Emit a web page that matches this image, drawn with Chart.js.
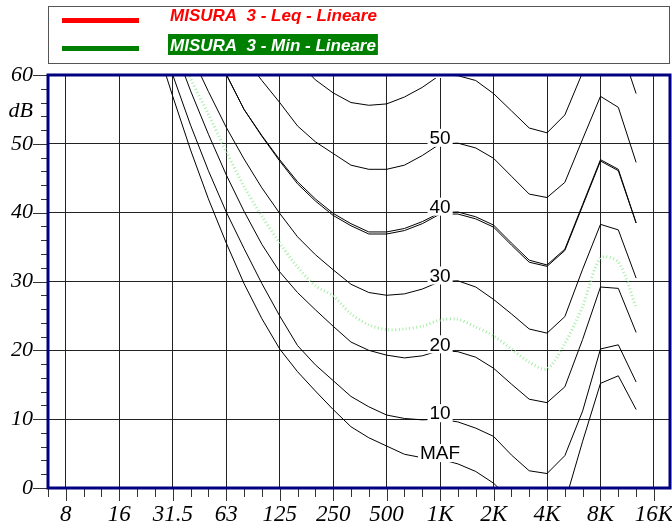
<!DOCTYPE html>
<html>
<head>
<meta charset="utf-8">
<script src="https://cdn.jsdelivr.net/npm/chart.js@4/dist/chart.umd.min.js"></script>
<style>
  body { margin: 0; background: #fff; }
</style>
</head>
<body>
<canvas id="chart" width="672" height="528"></canvas>
<script>
// 1/3 octave bands, 6.3 Hz .. 16 kHz
const bands = ['6.3','8','10','12.5','16','20','25','31.5','40','50','63','80','100','125','160','200','250','315',
  '400','500','630','800','1K','1.25K','1.6K','2K','2.5K','3.15K','4K','5K','6.3K','8K','10K','12.5K','16K'];
const tickLabels = ['8','16','31.5','63','125','250','500','1K','2K','4K','8K','16K'];
const _ = null;

// isophonic curves (dB), one value per band
const maf    = [_,_,_,_,_,_,65.0,56.9,49.1,42.0,35.6,29.7,24.6,20.2,16.9,14.1,11.4,8.9,7.3,6.1,4.9,4.4,4.2,3.5,2.4,0.7,-1.8,-4.0,-4.5,-2.1,6.8,15.2,16.3,11.4,_];
const phon10 = [_,_,_,_,_,_,67.0,60.0,52.7,46.1,40.1,34.8,29.7,25.0,20.7,17.9,15.6,13.3,11.8,10.6,10.1,9.9,10.0,9.6,8.7,7.5,4.8,2.5,2.1,4.7,11.2,20.2,20.8,15.4,_];
const phon20 = [_,_,_,_,_,_,_,64.6,57.7,51.4,45.5,40.2,35.4,31.4,28.4,25.9,23.5,21.2,20.0,19.3,18.9,19.2,20.0,19.8,19.0,17.4,15.1,12.9,12.4,14.7,21.6,29.2,29.0,22.6,_];
const phon30 = [_,_,_,_,_,_,_,_,63.1,57.6,52.4,47.8,43.6,39.9,36.5,33.9,31.7,29.6,28.4,28.0,28.2,28.9,30.0,30.1,29.2,27.4,25.3,23.1,22.5,24.9,31.8,38.3,37.5,30.5,_];
const phon40 = [_,_,_,_,_,_,_,_,_,65.2,60.1,55.0,51.2,47.7,44.5,42.0,39.9,38.4,37.2,37.2,37.7,38.7,40.0,40.1,39.4,38.2,35.6,33.1,32.4,34.7,41.2,47.7,46.3,38.5,_];
const phon40b= [_,_,_,_,_,_,_,_,_,65.2,60.1,55.0,51.1,47.5,44.2,41.7,39.6,38.1,36.9,36.9,37.4,38.4,39.8,39.8,39.1,37.9,35.3,32.8,32.2,34.5,41.0,47.5,46.1,38.5,_];
const phon50 = [_,_,_,_,_,_,_,_,_,_,_,62.6,59.2,56.0,52.6,50.3,48.6,46.9,46.3,46.3,46.9,48.3,50.0,50.1,49.4,47.9,45.3,42.7,42.2,44.4,50.7,56.9,55.3,47.3,_];
const phon60 = [_,_,_,_,_,_,_,_,_,_,_,_,_,_,62.0,59.3,57.4,56.0,55.6,55.8,56.8,58.2,60.0,59.9,59.2,57.3,54.8,52.3,51.6,54.2,60.4,66.0,65.0,57.3,_];

// measurements
const leq = [];
const minLin = [_,_,_,_,_,_,_,66.5,59.5,54.3,48.9,43.8,39.5,35.6,32.1,29.4,27.9,25.3,23.7,23.0,23.1,23.5,24.4,24.5,23.4,22.1,20.2,18.3,17.3,21.0,26.4,33.4,32.8,26.2,_];

const toXY = arr => arr.map((v, i) => ({ x: i, y: v }));

function curve(data, phon) {
  return { data: toXY(data), phon: phon, borderColor: '#000', borderWidth: 1, pointRadius: 0, tension: 0 };
}

const datasets = [
  curve(maf, 'MAF'), curve(phon10, '10'), curve(phon20, '20'), curve(phon30, '30'),
  curve(phon40, '40'), curve(phon40b, null), curve(phon50, '50'), curve(phon60, '60'),
  { label: 'MISURA  3 - Leq - Lineare', legendColor: '#ff0000', data: toXY(leq), borderColor: '#ff0000', borderWidth: 2, pointRadius: 0 },
  { label: 'MISURA  3 - Min - Lineare', legendColor: '#008000', data: toXY(minLin), borderColor: '#a8eca8',
    borderWidth: 3, borderDash: [1, 2.5], tension: 0.3, pointRadius: 0 }
];

const decorations = {
  id: 'decorations',
  afterDatasetsDraw(chart) {
    const ctx = chart.ctx, a = chart.chartArea, k = bands.indexOf('1K');
    ctx.save();
    ctx.beginPath();
    ctx.rect(a.left, a.top, a.right - a.left, a.bottom - a.top);
    ctx.clip();
    ctx.font = '19px "Liberation Sans", Arial, sans-serif';
    ctx.textAlign = 'center';
    ctx.textBaseline = 'middle';
    chart.data.datasets.forEach((ds, di) => {
      if (!ds.phon) return;
      const pt = chart.getDatasetMeta(di).data[k];
      const w = ctx.measureText(ds.phon).width;
      const cy = pt.y - 6;
      ctx.fillStyle = '#fff';
      ctx.fillRect(pt.x - w / 2 - 2, cy - 9, w + 4, 18);
      ctx.fillStyle = '#000';
      ctx.fillText(ds.phon, pt.x, cy + 1);
    });
    ctx.restore();
  },
  afterDraw(chart) {
    const ctx = chart.ctx, a = chart.chartArea, xs = chart.scales.x, ys = chart.scales.y;
    ctx.save();
    // tick marks
    ctx.strokeStyle = '#333';
    ctx.lineWidth = 1;
    ctx.beginPath();
    bands.forEach((b, i) => {
      const px = Math.round(xs.getPixelForValue(i)) + 0.5;
      const len = tickLabels.includes(b) ? 13 : 9;
      ctx.moveTo(px, a.bottom);
      ctx.lineTo(px, a.bottom + len);
    });
    for (let v = 0; v <= 60; v += 2) {
      const py = Math.round(ys.getPixelForValue(v)) + 0.5;
      const len = v % 10 === 0 ? 15 : 7;
      ctx.moveTo(a.left - len, py);
      ctx.lineTo(a.left, py);
    }
    ctx.stroke();
    // frame
    ctx.strokeStyle = '#000080';
    ctx.lineWidth = 3;
    ctx.strokeRect(a.left, a.top, a.right - a.left, a.bottom - a.top);
    // unit
    ctx.fillStyle = '#000';
    ctx.font = 'italic 22px "Liberation Serif", "Times New Roman", serif';
    ctx.textAlign = 'right';
    ctx.textBaseline = 'middle';
    ctx.fillText('dB', 33, 111);
    // legend
    ctx.strokeStyle = '#555';
    ctx.lineWidth = 1;
    ctx.strokeRect(48.5, 6.5, 621, 57);
    ctx.font = 'bold italic 17px "Liberation Sans", Arial, sans-serif';
    ctx.textAlign = 'left';
    ctx.textBaseline = 'alphabetic';
    const items = chart.data.datasets.filter(d => d.label);
    items.forEach((d, i) => {
      const y = 20 + i * 28;
      ctx.fillStyle = d.legendColor;
      ctx.fillRect(62, y - 2, 77, 5);
      const w = ctx.measureText(d.label).width;
      if (i === 1) {
        ctx.fillRect(168, y - 14, w + 4, 21);
        ctx.fillStyle = '#fff';
      }
      ctx.fillText(d.label, 170, y + 1 + i * 2);
    });
    ctx.restore();
  }
};

new Chart(document.getElementById('chart'), {
  type: 'line',
  data: { datasets: datasets },
  plugins: [decorations],
  options: {
    responsive: false,
    animation: false,
    devicePixelRatio: 1,
    layout: { padding: { top: 75, right: 2, left: 0, bottom: 0 } },
    plugins: { legend: { display: false }, tooltip: { enabled: false } },
    scales: {
      x: {
        type: 'linear', min: 0, max: 34.9,
        afterBuildTicks: s => { s.ticks = bands.map((b, i) => ({ value: i })); },
        afterFit: s => { s.height = 40; s.paddingLeft = 0; s.paddingRight = 0; },
        border: { display: false },
        grid: {
          drawTicks: false, lineWidth: 1,
          color: c => tickLabels.includes(bands[c.tick.value]) ? '#222' : 'transparent'
        },
        ticks: {
          autoSkip: false, maxRotation: 0, padding: 13, color: '#000',
          font: { family: '"Liberation Serif", "Times New Roman", serif', style: 'italic', size: 23 },
          callback: v => tickLabels.includes(bands[v]) ? bands[v] : ''
        }
      },
      y: {
        min: 0, max: 60,
        afterFit: s => { s.width = 48; s.paddingTop = 0; s.paddingBottom = 0; },
        border: { display: false },
        grid: {
          drawTicks: false, lineWidth: 1,
          color: c => c.tick.value % 10 === 0 ? '#222' : 'transparent'
        },
        ticks: {
          stepSize: 2, padding: 15, color: '#000', autoSkip: false,
          font: { family: '"Liberation Serif", "Times New Roman", serif', style: 'italic', size: 22 },
          callback: v => v % 10 === 0 ? v : ''
        }
      }
    }
  }
});
</script>
</body>
</html>
